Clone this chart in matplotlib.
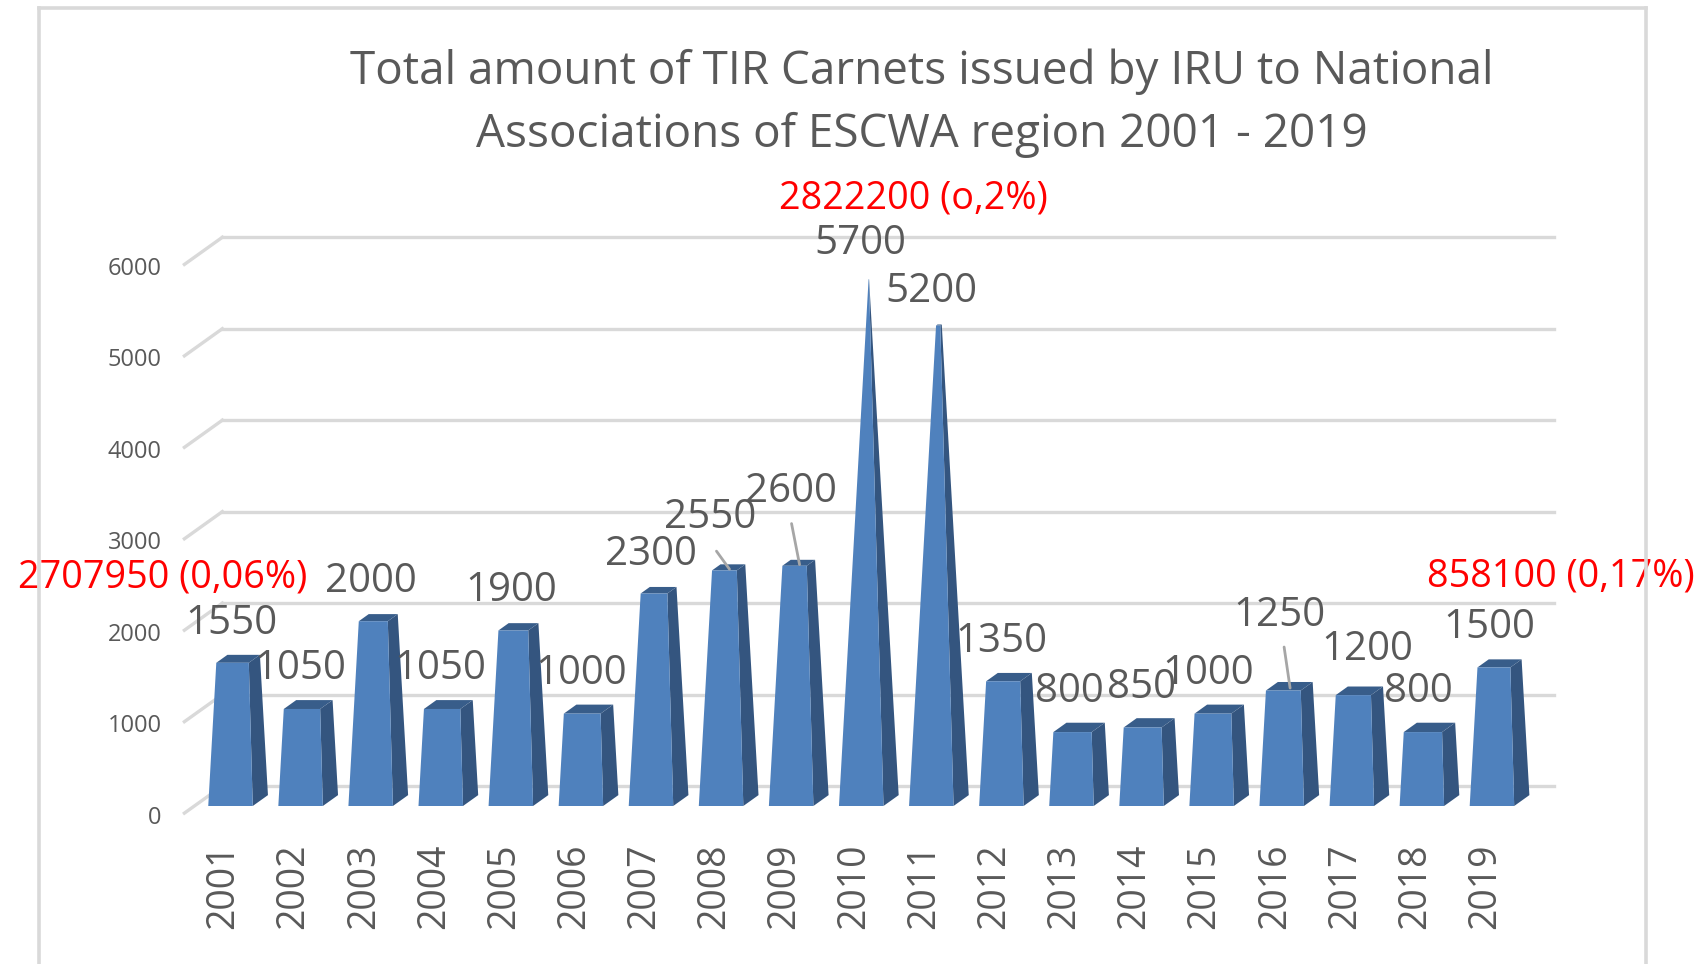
import numpy as np
import matplotlib
matplotlib.use('Agg')
import matplotlib.pyplot as plt
from matplotlib.lines import Line2D

years = [2001, 2002, 2003, 2004, 2005, 2006, 2007, 2008, 2009, 2010,
         2011, 2012, 2013, 2014, 2015, 2016, 2017, 2018, 2019]
carnets = [1550, 1050, 2000, 1050, 1900, 1000, 2300, 2550, 2600, 5700,
           5200, 1350, 800, 850, 1000, 1250, 1200, 800, 1500]
y_ticks = [0, 1000, 2000, 3000, 4000, 5000, 6000]
red_years = [2001, 2010, 2019]
red_labels = ["2707950 (0,06%)", "2822200 (o,2%)", "858100 (0,17%)"]
title = "Total amount of TIR Carnets issued by IRU to National\nAssociations of ESCWA region 2001 - 2019"

# label nudges in pixels from the default spot above each bar
label_dx = [1, 0, 0, 0, 0, 0, 0, -11, 0, -1, 0, 0, -2, 0, -3, -2, 16, -3, -3]
label_dy = [0, 0, 0, 0, 0, 0, 0, 14, 35, 0, -2, 0, 0, 0, 0, 35, 6, 0, 0]
red_dx = [-68, 52, 69]
red_dy = [87, 86, 92]
# leader lines: year and where the line starts, relative to the bar top
leader_years = [2008, 2009, 2016]
leader_dx = [-13, -8, -6]
leader_dy = [18, 41, 41]

W, H = 1701, 964
GREY = "#595959"
BAR_W = 0.635
DEPTH_X = 0.217
DEPTH_Y = 119
TAPER = 5750
WALL_Y = 219
WALL_L, WALL_R = -0.116, 18.89
FLOOR_X, FLOOR_Y = -0.658, -78

# pixel layout of the axes
left, right, top, bottom = 163, 1573, 174, 835
x0_px, step_px = 230.5, 70.08
y0_px, k_px = 806, 0.09145

fig = plt.figure(figsize=(W / 100, H / 100), dpi=100, facecolor="white")
ax = fig.add_axes([left / W, 1 - bottom / H, (right - left) / W, (bottom - top) / H])
ax.set_xlim((left - x0_px) / step_px, (right - x0_px) / step_px)
ax.set_ylim((y0_px - bottom) / k_px, (y0_px - top) / k_px)
for s in ax.spines.values():
    s.set_visible(False)

# back wall grid plus the little floor stubs
for v in y_ticks:
    ax.plot([WALL_L, WALL_R], [v + WALL_Y, v + WALL_Y], color="#d9d9d9", lw=2.4, zorder=1, clip_on=False)
    ax.plot([FLOOR_X, WALL_L], [v + FLOOR_Y, v + WALL_Y], color="#d9d9d9", lw=2.4, zorder=1, clip_on=False)

# pyramid style bars, each one narrows with its height
for i, v in enumerate(carnets):
    s = 1 - v / TAPER
    zf, zb = 0.5 - 0.5 * s, 0.5 + 0.5 * s
    fl = (i - BAR_W * s / 2 + zf * DEPTH_X, v + zf * DEPTH_Y)
    fr = (i + BAR_W * s / 2 + zf * DEPTH_X, v + zf * DEPTH_Y)
    bl = (i - BAR_W * s / 2 + zb * DEPTH_X, v + zb * DEPTH_Y)
    br = (i + BAR_W * s / 2 + zb * DEPTH_X, v + zb * DEPTH_Y)
    base_l = (i - BAR_W / 2, 0)
    base_r = (i + BAR_W / 2, 0)
    base_b = (i + BAR_W / 2 + DEPTH_X, DEPTH_Y)
    ax.fill(*zip(base_r, base_b, br, fr), color="#34557f", lw=0, zorder=3)
    ax.fill(*zip(fl, fr, br, bl), color="#385d8a", lw=0, zorder=3)
    ax.fill(*zip(base_l, base_r, fr, fl), color="#4f81bd", lw=0, zorder=3)

# data labels, the three offset ones get a leader line
for i, v in enumerate(carnets):
    ax.annotate(str(v), xy=(i, v), xytext=(label_dx[i], 41 + label_dy[i]), textcoords="offset pixels",
                ha="center", va="center", fontsize=29, color=GREY, family="Open Sans", zorder=5)
for yr, dx, dy in zip(leader_years, leader_dx, leader_dy):
    i = years.index(yr)
    ax.annotate("", xy=(i + 0.12, carnets[i] + 40), xytext=(dx, dy), textcoords="offset pixels",
                arrowprops=dict(arrowstyle="-", color="#a6a6a6", lw=2, shrinkA=0, shrinkB=0), zorder=4)

for yr, txt, dx, dy in zip(red_years, red_labels, red_dx, red_dy):
    i = years.index(yr)
    ax.annotate(txt, xy=(i, carnets[i]), xytext=(dx, dy), textcoords="offset pixels",
                ha="center", va="center", fontsize=27.2, color="#ff0000", family="Open Sans", zorder=6)

ax.set_xticks(np.arange(len(years)) - 0.1)
ax.set_xticklabels(years, rotation=90, fontsize=27, color=GREY, family="Open Sans")
ax.set_yticks([v - 95 for v in y_ticks])
ax.set_yticklabels(y_ticks, fontsize=17, color=GREY, family="Open Sans")
ax.tick_params(axis="x", length=0, pad=6)
ax.tick_params(axis="y", length=0, pad=1)

fig.text(922 / W, 1 - 103 / H, title, ha="center", va="center", fontsize=33, color=GREY,
         family="Open Sans", linespacing=1.48)

# picture frame, open at the bottom
frame = "#d9d9d9"
fig.add_artist(Line2D([39 / W, 39 / W], [0, 1 - 8 / H], color=frame, lw=2.6))
fig.add_artist(Line2D([39 / W, 1646 / W], [1 - 8 / H, 1 - 8 / H], color=frame, lw=2.6))
fig.add_artist(Line2D([1646 / W, 1646 / W], [0, 1 - 8 / H], color=frame, lw=2.6))

plt.savefig("out.png", dpi=100)
